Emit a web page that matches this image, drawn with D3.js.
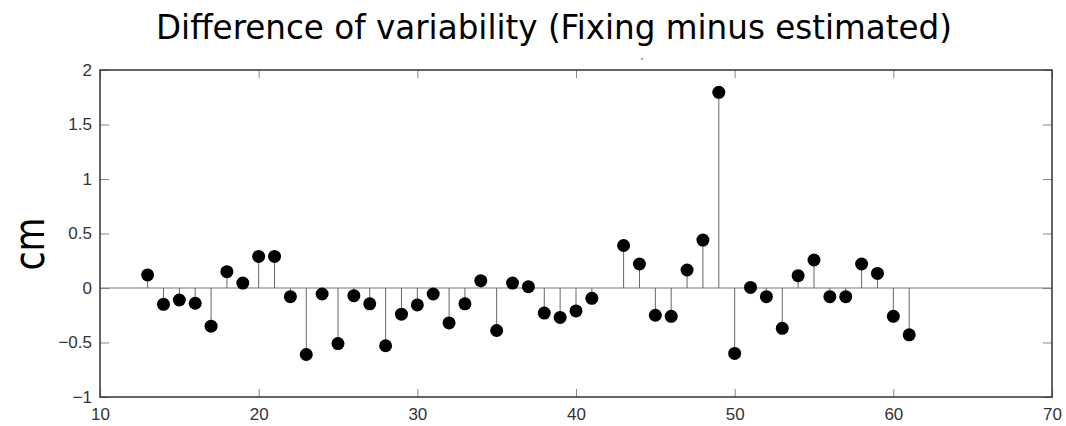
<!DOCTYPE html>
<html>
<head>
<meta charset="utf-8">
<script src="https://cdn.jsdelivr.net/npm/d3@7"></script>
<style>
  body { margin: 0; background: #fff; }
  text { font-family: "Liberation Sans", Arial, sans-serif; }
</style>
</head>
<body>
<div class="chart"></div>
<script>
// stem plot data: experiment index and difference (cm)
var xs = [13, 14, 15, 16, 17, 18, 19, 20, 21, 22, 23, 24, 25, 26, 27, 28, 29, 30,
  31, 32, 33, 34, 35, 36, 37, 38, 39, 40, 41, 43, 44, 45, 46, 47, 48, 49, 50,
  51, 52, 53, 54, 55, 56, 57, 58, 59, 60, 61]
var diffs = [0.12, -0.15, -0.11, -0.14, -0.35, 0.15, 0.045, 0.29, 0.29, -0.08, -0.61, -0.055, -0.51, -0.07, -0.145, -0.53, -0.24, -0.155,
  -0.055, -0.32, -0.145, 0.067, -0.39, 0.045, 0.012, -0.23, -0.27, -0.21, -0.095, 0.39, 0.22, -0.25, -0.26, 0.165, 0.44, 1.795, -0.6,
  0.005, -0.08, -0.37, 0.113, 0.257, -0.08, -0.08, 0.22, 0.134, -0.26, -0.43]
var xTicks = [10, 20, 30, 40, 50, 60, 70]
var yTicks = [-1, -0.5, 0, 0.5, 1, 1.5, 2]

var width = 1066, height = 426

var svg = d3.select(".chart").append("svg")
  .attr("width", width)
  .attr("height", height)

var x = d3.scaleLinear().domain([10, 70]).range([100, 1052])
var y = d3.scaleLinear().domain([-1, 2]).range([397, 70])

// title
svg.append("text")
  .attr("x", 554)
  .attr("y", 39)
  .attr("text-anchor", "middle")
  .style("font-family", "'DejaVu Sans Condensed', 'DejaVu Sans', sans-serif")
  .style("font-size", "34px")
  .attr("textLength", 796)
  .attr("lengthAdjust", "spacingAndGlyphs")
  .text("Difference of variability (Fixing minus estimated)")

svg.append("text")
  .attr("x", 640)
  .attr("y", 68)
  .style("font-size", "12px")
  .attr("fill", "#555")
  .text("ˊ")

// y label
svg.append("text")
  .attr("transform", "translate(44,244) rotate(-90)")
  .attr("text-anchor", "middle")
  .style("font-family", "'DejaVu Sans', sans-serif")
  .style("font-size", "42px")
  .attr("textLength", 53)
  .attr("lengthAdjust", "spacingAndGlyphs")
  .text("cm")

// axes with inward ticks on all sides
var fmt = function(d) { return d < 0 ? "\u2212" + Math.abs(d) : d }

var gx = svg.append("g")
  .attr("transform", "translate(0,397)")
  .call(d3.axisBottom(x).tickValues(xTicks).tickSizeInner(-8).tickSizeOuter(0).tickPadding(11))
var gy = svg.append("g")
  .attr("transform", "translate(100,0)")
  .call(d3.axisLeft(y).tickValues(yTicks).tickFormat(fmt).tickSizeInner(-9).tickSizeOuter(0).tickPadding(8))
var gt = svg.append("g")
  .attr("transform", "translate(0,70)")
  .call(d3.axisTop(x).tickValues(xTicks).tickSizeInner(-8).tickSizeOuter(0).tickFormat(""))
var gr = svg.append("g")
  .attr("transform", "translate(1052,0)")
  .call(d3.axisRight(y).tickValues(yTicks).tickSizeInner(-9).tickSizeOuter(0).tickFormat(""))

svg.selectAll(".domain").remove()
svg.selectAll(".tick line").attr("stroke", "#888")
svg.selectAll(".tick text")
  .attr("fill", "#333")
  .style("font-size", "17px")

// zero line
svg.append("line")
  .attr("x1", x(10)).attr("x2", x(70))
  .attr("y1", y(0)).attr("y2", y(0))
  .attr("stroke", "#777")
  .attr("stroke-width", 1.2)

// stems
var data = xs.map(function(d, i) { return { x: d, v: diffs[i] } })

svg.append("g")
  .selectAll("line")
  .data(data)
  .enter().append("line")
  .attr("x1", function(d) { return x(d.x) })
  .attr("x2", function(d) { return x(d.x) })
  .attr("y1", y(0))
  .attr("y2", function(d) { return y(d.v) })
  .attr("stroke", "#666")
  .attr("stroke-width", 1)

svg.append("g")
  .selectAll("circle")
  .data(data)
  .enter().append("circle")
  .attr("cx", function(d) { return x(d.x) })
  .attr("cy", function(d) { return y(d.v) })
  .attr("r", 6.5)
  .attr("fill", "#000")

// frame
svg.append("rect")
  .attr("x", 100).attr("y", 70)
  .attr("width", 952).attr("height", 327)
  .attr("fill", "none")
  .attr("stroke", "#333")
  .attr("stroke-width", 1.5)
</script>
</body>
</html>
